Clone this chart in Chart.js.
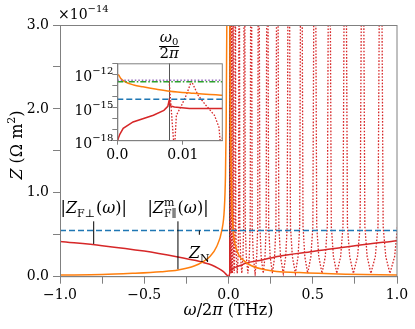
<!DOCTYPE html>
<html>
<head>
<meta charset="utf-8">
<script src="https://cdn.jsdelivr.net/npm/chart.js@4.4.1/dist/chart.umd.min.js"></script>
<style>
  html, body { margin: 0; padding: 0; background: #fff; }
  #wrap { position: relative; width: 415px; height: 329px; }
  #main { position: absolute; left: 0; top: 0; }
  #inset { position: absolute; left: 60px; top: 30px; }
</style>
</head>
<body>
<div id="wrap">
  <canvas id="main" width="415" height="329"></canvas>
  <canvas id="inset" width="170" height="135"></canvas>
</div>
<script>
// main panel values are in units of 1e-14 Ohm m^2, frequency in THz
const zN = 0.55;

const perpX = [-1, -0.75, -0.5, -0.3, -0.2, -0.15, -0.1, -0.06, -0.03, -0.01, 0, 0.003, 0.006, 0.0075, 0.0079, 0.0085, 0.01, 0.016, 0.03, 0.05, 0.08, 0.1, 0.2, 0.3, 0.5, 0.75, 1.0];
const perpZ = [0.42, 0.37, 0.305, 0.235, 0.195, 0.17, 0.14, 0.10, 0.06, 0.02, 0, 0.006, 0.03, 0.06, 0.45, 0.13, 0.09, 0.08, 0.10, 0.12, 0.14, 0.16, 0.2, 0.245, 0.30, 0.37, 0.43];

const parX = [-1, -0.75, -0.57, -0.4, -0.3, -0.2, -0.15, -0.11, -0.07, -0.04, -0.025, -0.018, -0.014, -0.01, -0.006, 0, 0.005, 0.008, 0.0113, 0.016, 0.019, 0.028, 0.049, 0.098, 0.227, 0.42, 0.7, 1.0];
const parZ = [0.02, 0.025, 0.04, 0.06, 0.08, 0.13, 0.18, 0.24, 0.36, 0.55, 0.8, 1.2, 1.8, 3.0, 6, 40, 6, 3.0, 2.0, 1.3, 0.92, 0.55, 0.32, 0.18, 0.08, 0.05, 0.03, 0.02];

// resonances of the dotted curve: peak and trough frequencies
const resPeak = [0.0079, 0.0113, 0.018, 0.027, 0.040, 0.063, 0.094, 0.134, 0.179, 0.230, 0.289, 0.357, 0.432, 0.512, 0.598, 0.693, 0.796, 0.903, 1.02];
const resDip = [0.0087, 0.0158, 0.023, 0.034, 0.052, 0.079, 0.115, 0.158, 0.206, 0.261, 0.325, 0.397, 0.470, 0.555, 0.643, 0.741, 0.845, 0.958];
const peakZ = 20;
const dipZ = 0.04;
const lobeFrac = [0.15, 0.27, 0.55];
const lobeZ = [3.0, 0.6, 0.24];

const xTicks = [-1, -0.5, 0, 0.5, 1];
const yTicks = [0, 1, 2, 3];

// inset, absolute Ohm m^2
const omega0 = 0.0079;
const inParX = [0.00015, 0.0005, 0.0012, 0.0025, 0.0039, 0.006, 0.008, 0.0113, 0.0158, 0.017];
const inParZ = [1e-12, 4.5e-13, 2.1e-13, 1.1e-13, 7.4e-14, 4.5e-14, 3.0e-14, 2.0e-14, 1.3e-14, 1.25e-14];
const inPerpX = [0, 0.00005, 0.0002, 0.0004, 0.0009, 0.0024, 0.0055, 0.0071, 0.0077, 0.0079, 0.0081, 0.0087, 0.011, 0.0158, 0.017];
const inPerpZ = [1e-20, 1e-18, 2e-18, 4e-18, 1.3e-17, 5e-17, 2e-16, 5.6e-16, 1.3e-15, 4.5e-15, 1.4e-15, 1.1e-15, 8.3e-16, 8e-16, 8e-16];
const inResX = [0.0079, 0.0087, 0.009, 0.0098, 0.0105, 0.0113, 0.0123, 0.0135, 0.0148, 0.0155, 0.0158, 0.0163];
const inResZ = [2.5e-13, 1e-19, 2e-16, 1.6e-15, 1.3e-14, 2.5e-13, 1.3e-14, 1.6e-15, 2e-16, 1.6e-17, 1e-19, 1e-16];
const greenZ = 2.2e-13;
const purpleZ = 3.0e-13;

const RED = "#d62728", ORANGE = "#ff7f0e", BLUE = "#1f77b4", GREEN = "#2ca02c", PURPLE = "#9467bd";
const SPINE = "#808080";

const pts = (xs, ys) => xs.map((x, i) => ({ x, y: ys[i] }));

const resonantPoints = () => {
  const out = [];
  resPeak.forEach((p, i) => {
    out.push({ x: p, y: peakZ });
    if (i >= resDip.length) return;
    const d = resDip[i];
    const next = resPeak[i + 1];
    lobeFrac.forEach((f, k) => out.push({ x: p + f * (d - p), y: lobeZ[k] }));
    out.push({ x: d, y: dipZ });
    for (let k = lobeFrac.length - 1; k >= 0; k--) out.push({ x: next - lobeFrac[k] * (next - d), y: lobeZ[k] });
  });
  return out;
};

const serif = (size, italic) => (italic ? "italic " : "") + size + 'px "DejaVu Serif"';

const rich = (ctx, x, y, parts, align) => {
  ctx.save();
  ctx.textBaseline = "alphabetic";
  ctx.textAlign = "left";
  ctx.fillStyle = "#000";
  let total = 0;
  parts.forEach((p) => {
    ctx.font = p.f;
    p.w = ctx.measureText(p.t).width;
    if (!p.hold) total += p.w + (p.gap || 0);
  });
  let cx = align === "center" ? x - total / 2 : align === "right" ? x - total : x;
  parts.forEach((p) => {
    ctx.font = p.f;
    ctx.fillText(p.t, cx, y + (p.dy || 0));
    if (!p.hold) cx += p.w + (p.gap || 0);
  });
  ctx.restore();
};

const vline = (ctx, x, y0, y1, color, w) => {
  ctx.save();
  ctx.strokeStyle = color;
  ctx.lineWidth = w;
  ctx.beginPath();
  ctx.moveTo(x, y0);
  ctx.lineTo(x, y1);
  ctx.stroke();
  ctx.restore();
};

const mainDecor = {
  id: "mainDecor",
  beforeDatasetsDraw(chart) {
    const { ctx, chartArea: a, scales } = chart;
    vline(ctx, Math.round(scales.x.getPixelForValue(0)) + 0.5, a.top, a.bottom, "#404040", 1);
  },
  afterDraw(chart) {
    const { ctx, chartArea: a, scales } = chart;
    const X = (v) => scales.x.getPixelForValue(v);
    const Y = (v) => scales.y.getPixelForValue(v);
    ctx.save();
    ctx.strokeStyle = SPINE;
    ctx.lineWidth = 1;
    ctx.strokeRect(a.left + 0.5, a.top + 0.5, a.right - a.left - 0.5, a.bottom - a.top - 0.5);
    ctx.restore();

    // annotation pointers
    vline(ctx, X(-0.80), Y(0.66), Y(0.39), "#000", 1);
    vline(ctx, X(-0.30), Y(0.66), Y(0.09), "#000", 1);
    vline(ctx, X(-0.173), Y(0.55), Y(0.50), "#000", 1);

    rich(ctx, X(-0.80), 213, [
      { t: "|", f: serif(16) }, { t: "Z", f: serif(16, true) },
      { t: "F", f: serif(11), dy: 4 }, { t: "\u22A5", f: serif(11), dy: 4, gap: 1 },
      { t: "(", f: serif(16) }, { t: "\u03C9", f: serif(16, true) }, { t: ")", f: serif(16) }, { t: "|", f: serif(16) },
    ], "center");
    rich(ctx, X(-0.30), 213, [
      { t: "|", f: serif(16) }, { t: "Z", f: serif(16, true) },
      { t: "m", f: serif(11), dy: -7, hold: true },
      { t: "F", f: serif(11), dy: 4 }, { t: "\u2225", f: serif(11), dy: 4, gap: 1 },
      { t: "(", f: serif(16) }, { t: "\u03C9", f: serif(16, true) }, { t: ")", f: serif(16) }, { t: "|", f: serif(16) },
    ], "center");
    rich(ctx, X(-0.173), 258, [
      { t: "Z", f: serif(16, true) }, { t: "N", f: serif(11), dy: 4 },
    ], "center");

    // offset text
    rich(ctx, 58, 19, [
      { t: "\u00D710", f: serif(14) }, { t: "\u221214", f: serif(10), dy: -7 },
    ], "left");

    // axis titles
    rich(ctx, X(0), 315, [
      { t: "\u03C9", f: serif(16, true) }, { t: "/2", f: serif(16) }, { t: "\u03C0", f: serif(16, true) },
      { t: " (THz)", f: serif(16) },
    ], "center");
    ctx.save();
    ctx.translate(22, 145);
    ctx.rotate(-Math.PI / 2);
    rich(ctx, 0, 0, [
      { t: "Z", f: serif(16, true) }, { t: " (\u03A9 m", f: serif(16) },
      { t: "2", f: serif(11), dy: -7 }, { t: ")", f: serif(16) },
    ], "center");
    ctx.restore();
  },
};

new Chart(document.getElementById("main"), {
  type: "line",
  data: {
    datasets: [
      { data: pts([-1, 1], [zN, zN]), borderColor: BLUE, borderWidth: 1.5, borderDash: [6, 3] },
      { data: pts(parX, parZ), borderColor: ORANGE, borderWidth: 1.5, cubicInterpolationMode: "monotone" },
      { data: pts(perpX, perpZ), borderColor: RED, borderWidth: 1.5, cubicInterpolationMode: "monotone" },
      { data: resonantPoints(), borderColor: RED, borderWidth: 1.3, borderDash: [1.6, 1.6] },
    ],
  },
  options: {
    responsive: false,
    animation: false,
    devicePixelRatio: 1,
    layout: { padding: { left: 0, right: 18, top: 25, bottom: 0 } },
    plugins: { legend: { display: false }, tooltip: { enabled: false } },
    elements: { point: { radius: 0 } },
    scales: {
      x: {
        type: "linear", min: -1, max: 1,
        afterFit: (s) => { s.height = 52.3; },
        ticks: {
          stepSize: 0.25, autoSkip: false, maxRotation: 0, padding: 3, color: "#000",
          font: { family: "DejaVu Serif", size: 14 },
          callback: (v) => (xTicks.some((t) => Math.abs(t - v) < 1e-9) ? v.toFixed(1).replace("-", "\u2212") : ""),
        },
        grid: { drawOnChartArea: false, tickLength: 7, color: SPINE },
        border: { color: SPINE },
      },
      y: {
        min: 0, max: 3,
        afterFit: (s) => { s.width = 60; },
        ticks: {
          stepSize: 0.5, autoSkip: false, padding: 4, color: "#000",
          font: { family: "DejaVu Serif", size: 14 },
          callback: (v) => (yTicks.includes(v) ? v.toFixed(1) : ""),
        },
        grid: { drawOnChartArea: false, tickLength: 7, color: SPINE },
        border: { color: SPINE },
      },
    },
  },
  plugins: [mainDecor],
});

const insetDecor = {
  id: "insetDecor",
  beforeDraw(chart) {
    const { ctx, chartArea: a } = chart;
    ctx.save();
    ctx.fillStyle = "#fff";
    ctx.fillRect(a.left, a.top, a.right - a.left, a.bottom - a.top);
    ctx.restore();
  },
  beforeDatasetsDraw(chart) {
    const { ctx, chartArea: a, scales } = chart;
    vline(ctx, Math.round(scales.x.getPixelForValue(omega0)) + 0.5, a.top, a.bottom, "#555", 1);
  },
  afterDraw(chart) {
    const { ctx, chartArea: a, scales } = chart;
    ctx.save();
    ctx.strokeStyle = SPINE;
    ctx.lineWidth = 1;
    ctx.strokeRect(a.left + 0.5, a.top + 0.5, a.right - a.left - 0.5, a.bottom - a.top - 0.5);
    ctx.restore();
    [-12, -15, -18].forEach((e) => {
      const y = scales.y.getPixelForValue(Math.pow(10, e));
      rich(ctx, a.left - 4, y + 7, [
        { t: "10", f: serif(14) }, { t: "\u2212" + Math.abs(e), f: serif(10), dy: -7 },
      ], "right");
    });
    // omega_0 / 2 pi
    const cx = scales.x.getPixelForValue(omega0);
    rich(ctx, cx, 12, [{ t: "\u03C9", f: serif(15, true) }, { t: "0", f: serif(10), dy: 3 }], "center");
    ctx.save();
    ctx.strokeStyle = "#000";
    ctx.lineWidth = 1;
    ctx.beginPath();
    ctx.moveTo(cx - 10, 16.5);
    ctx.lineTo(cx + 10, 16.5);
    ctx.stroke();
    ctx.restore();
    rich(ctx, cx, 28, [{ t: "2", f: serif(15) }, { t: "\u03C0", f: serif(15, true) }], "center");
  },
};

new Chart(document.getElementById("inset"), {
  type: "line",
  data: {
    datasets: [
      { data: pts([0, 0.016], [zN * 1e-14, zN * 1e-14]), borderColor: BLUE, borderWidth: 1.5, borderDash: [6, 3] },
      { data: pts([0, 0.016], [greenZ, greenZ]), borderColor: GREEN, borderWidth: 1.5, borderDash: [6, 2, 1.5, 2] },
      { data: pts([0, 0.016], [purpleZ, purpleZ]), borderColor: PURPLE, borderWidth: 1.5, borderDash: [1.5, 2] },
      { data: pts(inParX, inParZ), borderColor: ORANGE, borderWidth: 1.5, cubicInterpolationMode: "monotone" },
      { data: pts(inPerpX, inPerpZ), borderColor: RED, borderWidth: 1.5 },
      { data: pts(inResX, inResZ), borderColor: RED, borderWidth: 1.3, borderDash: [1.6, 1.6] },
    ],
  },
  options: {
    responsive: false,
    animation: false,
    devicePixelRatio: 1,
    layout: { padding: { left: 0, right: 7.7, top: 33.3, bottom: 0 } },
    plugins: { legend: { display: false }, tooltip: { enabled: false } },
    elements: { point: { radius: 0 } },
    scales: {
      x: {
        type: "linear", min: 0, max: 0.016,
        afterFit: (s) => { s.height = 24.3; },
        afterBuildTicks: (s) => { s.ticks = [{ value: 0 }, { value: 0.01 }]; },
        ticks: {
          autoSkip: false, maxRotation: 0, padding: 2, color: "#000",
          font: { family: "DejaVu Serif", size: 14 },
          callback: (v) => (v === 0 ? "0.0" : "0.01"),
        },
        grid: { drawOnChartArea: false, tickLength: 4, color: SPINE },
        border: { color: SPINE },
      },
      y: {
        type: "logarithmic", min: 1e-18, max: 1e-11,
        afterFit: (s) => { s.width = 57.3; },
        afterBuildTicks: (s) => {
          s.ticks = [-18, -17, -16, -15, -14, -13, -12, -11].map((e) => ({ value: Math.pow(10, e) }));
        },
        ticks: { autoSkip: false, callback: () => "" },
        grid: { drawOnChartArea: false, tickLength: 5, color: SPINE },
        border: { color: SPINE },
      },
    },
  },
  plugins: [insetDecor],
});
</script>
</body>
</html>
